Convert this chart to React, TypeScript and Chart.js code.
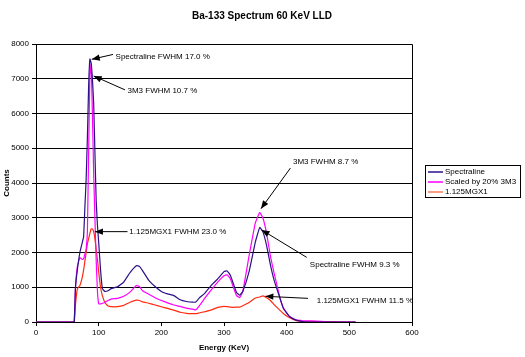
import React, { useEffect, useRef } from "react";
import { Chart, registerables } from "chart.js";

Chart.register(...registerables);

const chartTitle = "Ba-133 Spectrum 60 KeV LLD";
const xTitle = "Energy (KeV)";
const yTitle = "Counts";

const energy = [0, 58, 61, 63, 66, 70, 74, 76, 78, 80, 82, 84, 86, 88, 90, 92, 94, 96, 98, 100, 103, 106, 110, 115, 120, 130, 140, 150, 160, 165, 170, 180, 190, 200, 210, 220, 230, 240, 250, 255, 260, 270, 280, 290, 300, 305, 310, 315, 320, 325, 330, 340, 350, 357, 362, 368, 374, 380, 389, 395, 405, 415, 425, 440, 455, 470, 490, 510];

const spectraline = [0, 0, 0, 1000, 1500, 2000, 2300, 2450, 3300, 4100, 5300, 6800, 7570, 7450, 7000, 6300, 4900, 3500, 2800, 2300, 1500, 950, 880, 900, 960, 1010, 1150, 1420, 1620, 1600, 1480, 1200, 1020, 880, 810, 760, 640, 590, 570, 575, 680, 840, 1060, 1240, 1450, 1470, 1350, 1100, 850, 770, 880, 1450, 2300, 2720, 2600, 2200, 1650, 1200, 700, 380, 150, 55, 15, 0, 0, 0, 0, 0];

const scaled3M3 = [0, 0, 0, 1000, 1600, 1850, 1800, 1820, 1950, 2100, 2600, 4900, 7100, 7430, 6000, 4300, 3000, 1800, 900, 530, 520, 540, 560, 620, 660, 680, 740, 860, 1050, 1020, 900, 800, 700, 620, 550, 490, 450, 400, 370, 350, 450, 700, 930, 1150, 1330, 1360, 1250, 1000, 760, 700, 880, 1900, 2850, 3150, 3000, 2550, 1900, 1400, 720, 400, 150, 60, 40, 30, 20, 0, 0, 0];

const mgx1 = [0, 0, 0, 500, 950, 1050, 1300, 1500, 1750, 2000, 2250, 2400, 2550, 2680, 2680, 2600, 2400, 2100, 1800, 1450, 1000, 750, 560, 460, 440, 440, 480, 570, 630, 620, 580, 540, 490, 440, 390, 340, 280, 250, 240, 240, 260, 300, 350, 420, 450, 440, 430, 420, 430, 430, 470, 560, 690, 720, 750, 700, 620, 500, 340, 240, 120, 40, 20, 10, 10, 10, 0, 0];

const seriesLabels = ["Spectraline", "Scaled by 20% 3M3", "1.125MGX1"];
const seriesColors = ["#2b1088", "#ff00ff", "#ff2a10"];
const legendColors = ["#2b1088", "#ff00ff", "#ff7a5a"];

// annotation labels: tip (arrow head) / tail / text anchor, in data units
const notes = [
  { text: "Spectraline FWHM 17.0 %", tip: [89, 7560], tail: [123, 7700], at: [127, 7640] },
  { text: "3M3 FWHM 10.7 %", tip: [92, 7080], tail: [142, 6680], at: [146, 6660] },
  { text: "1.125MGX1 FWHM 23.0 %", tip: [94, 2600], tail: [146, 2600], at: [149, 2600] },
  { text: "3M3 FWHM 8.7 %", tip: [359, 3260], tail: [406, 4430], at: [410, 4620] },
  { text: "Spectraline FWHM 9.3 %", tip: [360, 2650], tail: [432, 1860], at: [437, 1660] },
  { text: "1.125MGX1 FWHM 11.5 %", tip: [366, 740], tail: [434, 680], at: [448, 604] },
];

const FONT = "'Liberation Sans', Arial, sans-serif";

const decorPlugin = {
  id: "decor",
  afterDraw(chart: any) {
    const ctx = chart.ctx as CanvasRenderingContext2D;
    const { left, right, top, bottom } = chart.chartArea;
    const xs = chart.scales.x;
    const ys = chart.scales.y;
    ctx.save();
    ctx.strokeStyle = "#000";
    ctx.lineWidth = 1;
    ctx.beginPath();
    ctx.moveTo(Math.round(left) + 0.5, Math.round(top) + 0.5);
    ctx.lineTo(Math.round(right) + 0.5, Math.round(top) + 0.5);
    ctx.lineTo(Math.round(right) + 0.5, Math.round(bottom) + 0.5);
    ctx.stroke();

    ctx.fillStyle = "#000";
    ctx.font = `bold 10px ${FONT}`;
    ctx.textAlign = "center";
    ctx.textBaseline = "middle";
    ctx.fillText(chartTitle, 262, 16);

    ctx.font = `8px ${FONT}`;
    ctx.textAlign = "left";
    for (const n of notes) {
      const tx = xs.getPixelForValue(n.tip[0]);
      const ty = ys.getPixelForValue(n.tip[1]);
      const sx = xs.getPixelForValue(n.tail[0]);
      const sy = ys.getPixelForValue(n.tail[1]);
      const ax = xs.getPixelForValue(n.at[0]);
      const ay = ys.getPixelForValue(n.at[1]);
      ctx.beginPath();
      ctx.moveTo(sx, sy);
      ctx.lineTo(tx, ty);
      ctx.stroke();
      const ang = Math.atan2(ty - sy, tx - sx);
      const L = 8, W = 3.2;
      const bx = tx - L * Math.cos(ang);
      const by = ty - L * Math.sin(ang);
      ctx.beginPath();
      ctx.moveTo(tx, ty);
      ctx.lineTo(bx + W * Math.sin(ang), by - W * Math.cos(ang));
      ctx.lineTo(bx - W * Math.sin(ang), by + W * Math.cos(ang));
      ctx.closePath();
      ctx.fill();
      ctx.fillText(n.text, ax, ay);
    }

    const lx = 425, ly = 165, lw = 95, lh = 32;
    ctx.fillStyle = "#fff";
    ctx.fillRect(lx, ly, lw, lh);
    ctx.strokeStyle = "#000";
    ctx.strokeRect(lx + 0.5, ly + 0.5, lw, lh);
    chart.data.datasets.forEach((ds: any, i: number) => {
      const y = ly + 7 + i * 10;
      ctx.strokeStyle = legendColors[i];
      ctx.lineWidth = 1.5;
      ctx.beginPath();
      ctx.moveTo(lx + 3, y);
      ctx.lineTo(lx + 18, y);
      ctx.stroke();
      ctx.fillStyle = "#000";
      ctx.font = `8px ${FONT}`;
      ctx.textAlign = "left";
      ctx.textBaseline = "middle";
      ctx.fillText(ds.label, lx + 20, y);
    });
    ctx.restore();
  },
};

export default function App() {
  const ref = useRef<HTMLCanvasElement>(null);
  useEffect(() => {
    if (!ref.current) return;
    const series = [spectraline, scaled3M3, mgx1];
    const chart = new Chart(ref.current, {
      type: "line",
      data: {
        datasets: series.map((s, i) => ({
          label: seriesLabels[i],
          data: energy.map((e, j) => ({ x: e, y: s[j] })),
          borderColor: seriesColors[i],
          backgroundColor: seriesColors[i],
          borderWidth: 1.2,
          pointRadius: 0,
          tension: 0.1,
          fill: false,
        })),
      },
      options: {
        responsive: false,
        animation: false,
        layout: { padding: { top: 44, right: 113, left: 0, bottom: 0 } },
        plugins: {
          legend: { display: false },
          title: { display: false },
          tooltip: { enabled: false },
        },
        scales: {
          x: {
            type: "linear",
            min: 0,
            max: 600,
            afterFit: (s: any) => { s.height = 35; },
            ticks: { stepSize: 100, color: "#000", font: { size: 8, family: FONT }, padding: 2, maxRotation: 0, callback: (v: any) => String(v) },
            grid: { drawOnChartArea: false, color: "#000", tickLength: 4 },
            border: { color: "#000" },
            title: { display: true, text: xTitle, color: "#000", font: { size: 8, weight: "bold", family: FONT }, padding: { top: 2, bottom: 4 } },
          },
          y: {
            min: 0,
            max: 8000,
            afterFit: (s: any) => { s.width = 36; },
            ticks: { stepSize: 1000, color: "#000", font: { size: 8, family: FONT }, padding: 3, callback: (v: any) => String(v) },
            grid: { color: "#000", tickLength: 4 },
            border: { color: "#000" },
            title: { display: true, text: yTitle, color: "#000", font: { size: 8, weight: "bold", family: FONT }, padding: { top: 2, bottom: 2 } },
          },
        },
      },
      plugins: [decorPlugin],
    } as any);
    return () => chart.destroy();
  }, []);
  return (
    <div style={{ position: "fixed", left: 0, top: 0, width: 525, height: 357, background: "#fff" }}>
      <canvas ref={ref} width={525} height={357} style={{ display: "block" }} />
    </div>
  );
}
